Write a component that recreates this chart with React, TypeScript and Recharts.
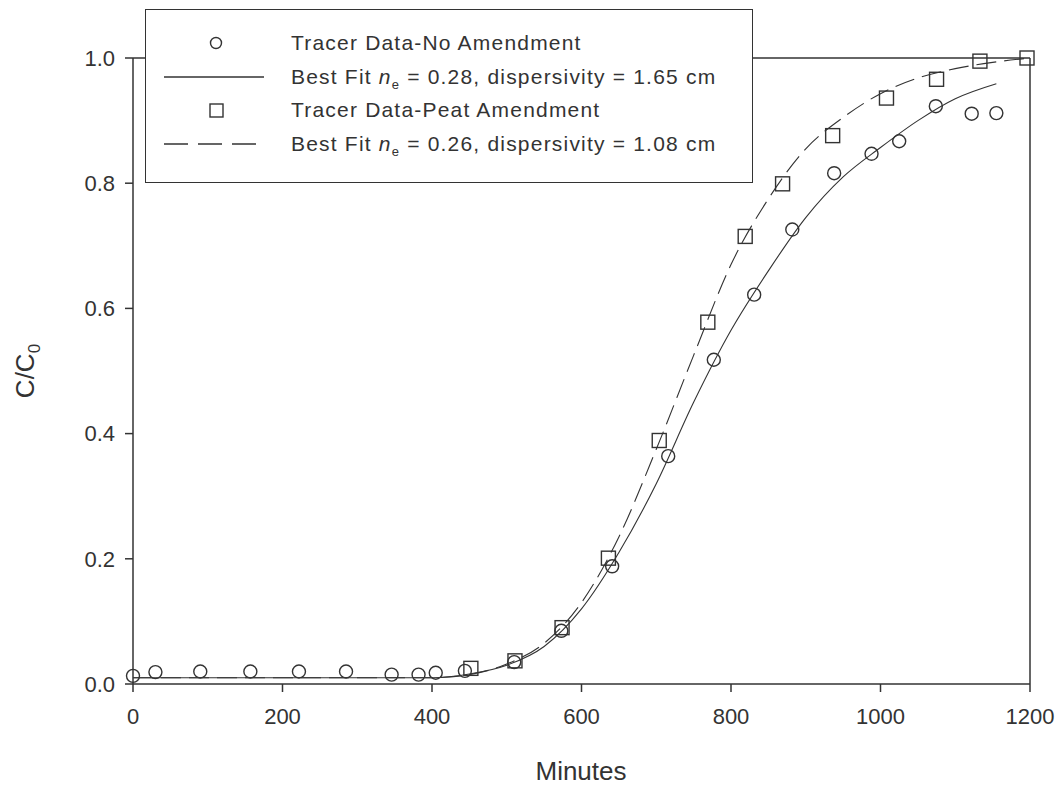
import React from 'react';
import { ComposedChart, Line, Scatter, XAxis, YAxis, ReferenceLine, Label } from 'recharts';

// measured points, no amendment (circles)
const circleMinutes = [0, 30, 90, 157, 222, 285, 346, 382, 405, 444, 510, 573, 641, 716, 777, 831, 882, 938, 988, 1025, 1074, 1122, 1155];
const circleConc = [0.013, 0.019, 0.02, 0.02, 0.02, 0.02, 0.015, 0.015, 0.018, 0.021, 0.035, 0.085, 0.188, 0.364, 0.518, 0.622, 0.726, 0.816, 0.847, 0.867, 0.923, 0.911, 0.912];

// measured points, peat amendment (squares)
const squareMinutes = [452, 511, 574, 636, 704, 769, 819, 869, 936, 1008, 1075, 1133, 1196];
const squareConc = [0.025, 0.037, 0.09, 0.201, 0.389, 0.578, 0.715, 0.799, 0.876, 0.936, 0.966, 0.995, 1.0];

// best fit curves
const fitNoMinutes = [0, 100, 200, 300, 400, 450, 500, 550, 600, 650, 700, 750, 800, 850, 900, 950, 1000, 1050, 1100, 1155];
const fitNoConc = [0.01, 0.01, 0.01, 0.01, 0.01, 0.016, 0.03, 0.06, 0.12, 0.21, 0.32, 0.45, 0.565, 0.66, 0.745, 0.81, 0.857, 0.9, 0.935, 0.959];

const fitPeatMinutes = [0, 100, 200, 300, 400, 450, 500, 550, 600, 650, 700, 750, 800, 850, 900, 950, 1000, 1050, 1100, 1150, 1200];
const fitPeatConc = [0.01, 0.01, 0.01, 0.01, 0.01, 0.015, 0.032, 0.065, 0.13, 0.235, 0.375, 0.525, 0.67, 0.775, 0.855, 0.905, 0.943, 0.968, 0.983, 0.993, 1.0];

const xTicks = [0, 200, 400, 600, 800, 1000, 1200];
const yTicks = [0, 0.2, 0.4, 0.6, 0.8, 1.0];

const zip = (xs: number[], ys: number[]) => xs.map((x, i) => ({ x, y: ys[i] }));

const circles = zip(circleMinutes, circleConc);
const squares = zip(squareMinutes, squareConc);
const fitNo = zip(fitNoMinutes, fitNoConc);
const fitPeat = zip(fitPeatMinutes, fitPeatConc);

const INK = '#333';
const FONT = '"Liberation Sans", Arial, sans-serif';

const CircleMark = (props: any) => (
    <circle cx={props.cx} cy={props.cy} r={6.5} fill="none" stroke={INK} strokeWidth={1.4} />
);

const SquareMark = (props: any) => (
    <rect x={props.cx - 7} y={props.cy - 7} width={14} height={14} fill="none" stroke={INK} strokeWidth={1.4} />
);

const YTitle = () => (
    <text x={34} y={371} transform="rotate(-90 34 371)" textAnchor="middle" fill={INK} fontSize={26} fontFamily={FONT}>
        C/C<tspan dy={6} fontSize={17}>0</tspan>
    </text>
);

const XTitle = () => (
    <text x={581} y={780} textAnchor="middle" fill={INK} fontSize={26} fontFamily={FONT}>
        Minutes
    </text>
);

function ChartLegend() {
    const row = { position: 'absolute' as const, left: 145, fontSize: 21, letterSpacing: 1.2, color: INK, fontFamily: FONT, lineHeight: '24px' };
    return (
        <div style={{ position: 'absolute', left: 145, top: 9, width: 606, height: 172, background: '#fff', border: `1.5px solid ${INK}` }}>
            <svg width={130} height={172} style={{ position: 'absolute', left: 0, top: 0 }}>
                <circle cx={70} cy={33} r={5.5} fill="none" stroke={INK} strokeWidth={1.4} />
                <line x1={18} x2={118} y1={67} y2={67} stroke={INK} strokeWidth={1.4} />
                <rect x={64} y={94} width={13} height={13} fill="none" stroke={INK} strokeWidth={1.4} />
                <line x1={18} x2={118} y1={134} y2={134} stroke={INK} strokeWidth={1.4} strokeDasharray="24 10" />
            </svg>
            <div style={{ ...row, top: 21 }}>Tracer Data-No Amendment</div>
            <div style={{ ...row, top: 55 }}>Best Fit <i>n</i><sub style={{ fontSize: 13 }}>e</sub> = 0.28, dispersivity = 1.65 cm</div>
            <div style={{ ...row, top: 88 }}>Tracer Data-Peat Amendment</div>
            <div style={{ ...row, top: 122 }}>Best Fit <i>n</i><sub style={{ fontSize: 13 }}>e</sub> = 0.26, dispersivity = 1.08 cm</div>
        </div>
    );
}

export default function App() {
    return (
        <div style={{ position: 'absolute', left: 0, top: 0, width: 1060, height: 790, background: '#fff' }}>
            <ComposedChart width={1060} height={790} margin={{ top: 58, right: 30, left: 0, bottom: 0 }}>
                <XAxis
                    type="number"
                    dataKey="x"
                    domain={[0, 1200]}
                    ticks={xTicks}
                    height={106}
                    tickSize={8}
                    tickMargin={16}
                    axisLine={{ stroke: INK, strokeWidth: 1.5 }}
                    tickLine={{ stroke: INK, strokeWidth: 1.5 }}
                    tick={{ fill: INK, fontSize: 22, fontFamily: FONT }}
                >
                    <Label content={XTitle} />
                </XAxis>
                <YAxis
                    type="number"
                    dataKey="y"
                    domain={[0, 1]}
                    ticks={yTicks}
                    width={133}
                    tickSize={8}
                    tickMargin={10}
                    tickFormatter={(v: number) => v.toFixed(1)}
                    axisLine={{ stroke: INK, strokeWidth: 1.5 }}
                    tickLine={{ stroke: INK, strokeWidth: 1.5 }}
                    tick={{ fill: INK, fontSize: 22, fontFamily: FONT }}
                >
                    <Label content={YTitle} />
                </YAxis>
                <ReferenceLine y={1} stroke={INK} strokeWidth={1.5} />
                <ReferenceLine x={1200} stroke={INK} strokeWidth={1.5} />
                <Line data={fitNo} dataKey="y" type="monotone" stroke={INK} strokeWidth={1.1} dot={false} activeDot={false} isAnimationActive={false} />
                <Line data={fitPeat} dataKey="y" type="monotone" stroke={INK} strokeWidth={1.1} strokeDasharray="20 8" dot={false} activeDot={false} isAnimationActive={false} />
                <Scatter data={circles} dataKey="y" shape={CircleMark} isAnimationActive={false} />
                <Scatter data={squares} dataKey="y" shape={SquareMark} isAnimationActive={false} />
            </ComposedChart>
            <ChartLegend />
        </div>
    );
}
